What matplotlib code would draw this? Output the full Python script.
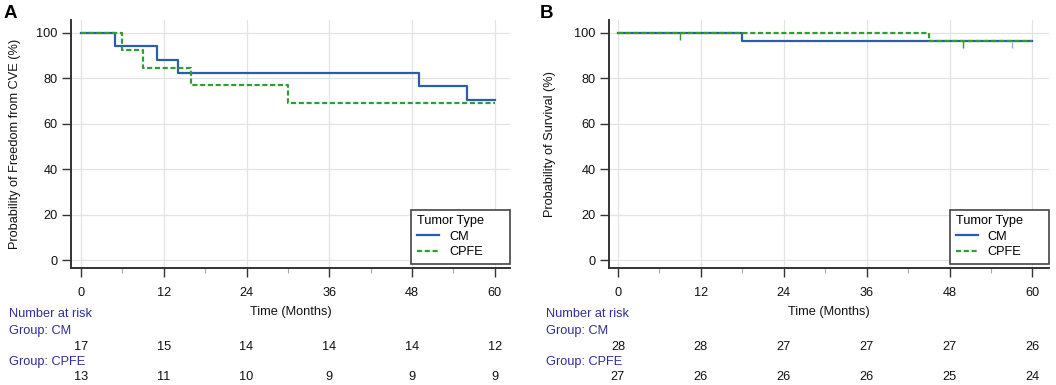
import matplotlib
matplotlib.use("Agg")
import matplotlib.pyplot as plt
import matplotlib.transforms as mtransforms
from matplotlib.ticker import MultipleLocator
from matplotlib.lines import TICKDOWN

plt.rcParams['font.family'] = ['Liberation Sans', 'DejaVu Sans']

# ---------------- data ----------------
a_cm_t = [0, 5, 11, 14, 49, 56, 60]
a_cm_s = [100, 94.1, 88.2, 82.4, 76.5, 70.6, 70.6]
a_cpfe_t = [0, 6, 9, 16, 30, 60]
a_cpfe_s = [100, 92.3, 84.6, 76.9, 69.2, 69.2]

b_cm_t = [0, 18, 60]
b_cm_s = [100, 96.4, 96.4]
b_cpfe_t = [0, 45, 60]
b_cpfe_s = [100, 96.3, 96.3]
b_cpfe_cens_t = [9, 50]
b_cpfe_cens_s = [100, 96.3]
b_cm_cens_t = [57]
b_cm_cens_s = [96.4]

risk_times = [0, 12, 24, 36, 48, 60]
a_risk_cm = [17, 15, 14, 14, 14, 12]
a_risk_cpfe = [13, 11, 10, 9, 9, 9]
b_risk_cm = [28, 28, 27, 27, 27, 26]
b_risk_cpfe = [27, 26, 26, 26, 25, 24]

ylabels = ["Probability of Freedom from CVE (%)", "Probability of Survival (%)"]
panel_letters = ["A", "B"]

CM_COLOR = "#2b5ea7"
CPFE_COLOR = "#2e9e2e"
RISK_COLOR = "#2e2e96"
FS = 9.2
DASH = (0, (2.3, 1.2))

fig = plt.figure(figsize=(10.56, 3.85), dpi=100)
W, H = 1056, 385

def add_axes(left, right, top, bottom):
    return fig.add_axes([left / W, 1 - bottom / H, (right - left) / W, (bottom - top) / H])

axA = add_axes(71, 510, 20, 268)
axB = add_axes(609, 1049, 20, 268)

def style(ax, xlim):
    ax.set_xlim(*xlim)
    ax.set_ylim(-3.5, 105.7)
    ax.xaxis.set_major_locator(MultipleLocator(12))
    ax.xaxis.set_minor_locator(MultipleLocator(6))
    ax.yaxis.set_major_locator(MultipleLocator(20))
    ax.grid(True, which='major', color='#e3e3e3', linewidth=0.9)
    ax.set_axisbelow(True)
    for s in ['top', 'right']:
        ax.spines[s].set_visible(False)
    for s in ['left', 'bottom']:
        ax.spines[s].set_color('#333333')
        ax.spines[s].set_linewidth(1.4)
    ax.tick_params(axis='both', which='major', length=6.5, width=1.0, color='#333333',
                   labelsize=FS, labelcolor='#111111', pad=3)
    ax.tick_params(axis='x', which='major', pad=7)
    ax.tick_params(axis='x', which='minor', length=3.5, width=0.8, color='#aaaaaa')
    ax.set_xlabel("Time (Months)", fontsize=FS, color='#111111', labelpad=5.5)

style(axA, (-1.45, 62.2))
style(axB, (-1.3, 62.4))

# Panel A curves
axA.step(a_cm_t, a_cm_s, where='post', color=CM_COLOR, lw=1.6, label='CM')
axA.step(a_cpfe_t, a_cpfe_s, where='post', color=CPFE_COLOR, lw=1.6,
         linestyle=DASH, label='CPFE')

# Panel B curves
axB.step(b_cm_t, b_cm_s, where='post', color=CM_COLOR, lw=1.6, label='CM')
axB.step(b_cpfe_t, b_cpfe_s, where='post', color=CPFE_COLOR, lw=1.6,
         linestyle=DASH, label='CPFE')
axB.plot(b_cpfe_cens_t, b_cpfe_cens_s, linestyle='none', marker=TICKDOWN,
         markersize=5, color=CPFE_COLOR, markeredgewidth=1.0)
axB.plot(b_cm_cens_t, b_cm_cens_s, linestyle='none', marker=TICKDOWN,
         markersize=5, color='#9fb4d6', markeredgewidth=1.0)

label_x = [-0.114, -0.120]
for ax, ylab, lx in zip([axA, axB], ylabels, label_x):
    ax.set_ylabel(ylab, fontsize=FS, color='#111111')
    ax.yaxis.set_label_coords(lx, 0.5)
    leg = ax.legend(title='Tumor Type', loc='lower left',
                    bbox_to_anchor=(0.775, 0.016, 0.225, 0.2), mode='expand',
                    borderaxespad=0, fontsize=FS, title_fontsize=FS, fancybox=False,
                    edgecolor='#444444', framealpha=1, handlelength=1.75,
                    handletextpad=0.75, labelspacing=0.27, borderpad=0.45,
                    alignment='left')
    leg.get_frame().set_linewidth(1.2)

# Panel letters
fig.text(4 / W, 1 - 14 / H, panel_letters[0], fontsize=13.5, fontweight='bold', va='center', ha='left')
fig.text(540 / W, 1 - 14 / H, panel_letters[1], fontsize=13.5, fontweight='bold', va='center', ha='left')

# Number at risk tables
def risk_table(ax, x_left_px, cm, cpfe):
    fig.text(x_left_px / W, 1 - 314 / H, "Number at risk", fontsize=FS, color=RISK_COLOR, va='center')
    fig.text(x_left_px / W, 1 - 331 / H, "Group: CM", fontsize=FS, color=RISK_COLOR, va='center')
    fig.text(x_left_px / W, 1 - 362 / H, "Group: CPFE", fontsize=FS, color=RISK_COLOR, va='center')
    trans = mtransforms.blended_transform_factory(ax.transData, fig.transFigure)
    for t, n in zip(risk_times, cm):
        fig.text(t, 1 - 347 / H, str(n), transform=trans, fontsize=FS, ha='center', va='center', color='#111111')
    for t, n in zip(risk_times, cpfe):
        fig.text(t, 1 - 377 / H, str(n), transform=trans, fontsize=FS, ha='center', va='center', color='#111111')

risk_table(axA, 9, a_risk_cm, a_risk_cpfe)
risk_table(axB, 546, b_risk_cm, b_risk_cpfe)

fig.savefig("out.png", dpi=100)
